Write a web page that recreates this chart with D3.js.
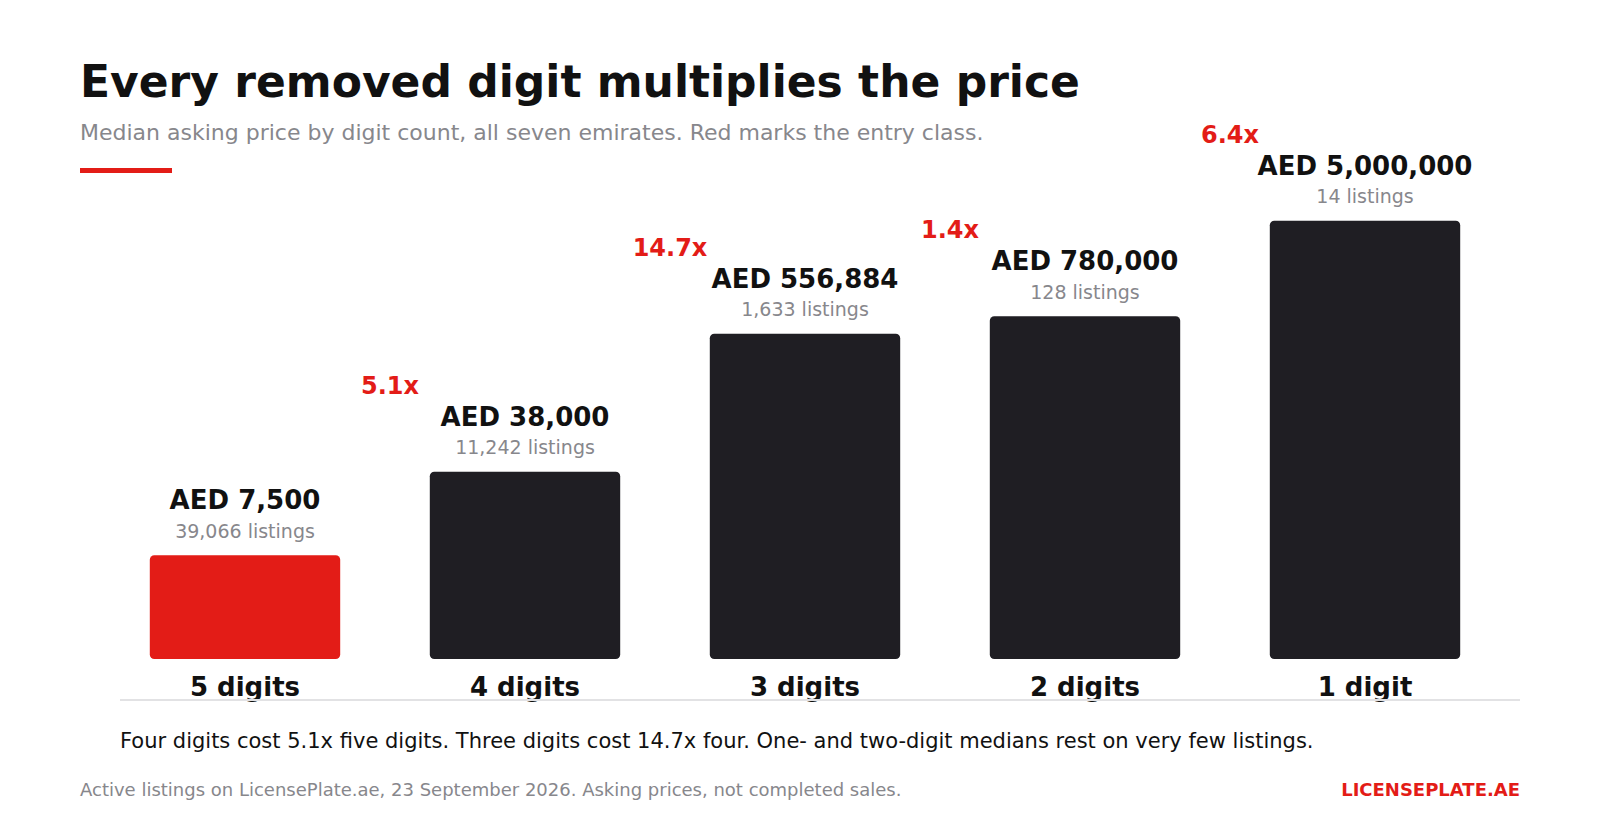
<!DOCTYPE html>
<html>
<head>
<meta charset="utf-8">
<script src="https://cdn.jsdelivr.net/npm/d3@7/dist/d3.min.js"></script>
<style>
  html, body { margin: 0; padding: 0; background: #ffffff; }
  svg { display: block; font-family: "DejaVu Sans", sans-serif; }
</style>
</head>
<body>
<svg id="chart" width="1600" height="840"></svg>
<script>
// ---- Data ----
const categories = ["5 digits", "4 digits", "3 digits", "2 digits", "1 digit"];
const medianPrices = [7500, 38000, 556884, 780000, 5000000];
const listingCounts = [39066, 11242, 1633, 128, 14];
const multipliers = ["", "5.1x", "14.7x", "1.4x", "6.4x"];
const highlight = [true, false, false, false, false];

const titleText = "Every removed digit multiplies the price";
const subtitleText = "Median asking price by digit count, all seven emirates. Red marks the entry class.";
const noteText = "Four digits cost 5.1x five digits. Three digits cost 14.7x four. One- and two-digit medians rest on very few listings.";
const sourceText = "Active listings on LicensePlate.ae, 23 September 2026. Asking prices, not completed sales.";
const brandText = "LICENSEPLATE.AE";

// ---- Styles ----
const RED = "#e31c17";
const DARK = "#1f1e23";
const GRAY = "#87878c";
const INK = "#111111";

const svg = d3.select("#chart");

// ---- Scales ----
const x = d3.scaleBand()
  .domain(categories)
  .range([105, 1505])
  .paddingInner(0.32)
  .paddingOuter(0.16);

const y = d3.scaleLog()
  .domain([1000, 10000000])
  .range([659, 185]);

const rows = categories.map((c, i) => ({
  cat: c, price: medianPrices[i], count: listingCounts[i],
  mult: multipliers[i], hi: highlight[i], i
}));

// ---- Header ----
svg.append("text")
  .attr("x", 80).attr("y", 97)
  .attr("font-size", 44).attr("font-weight", "bold").attr("fill", INK)
  .text(titleText);

svg.append("text")
  .attr("x", 80).attr("y", 140)
  .attr("font-size", 22).attr("fill", GRAY)
  .text(subtitleText);

svg.append("rect")
  .attr("x", 80).attr("y", 168).attr("width", 92).attr("height", 5)
  .attr("fill", RED);

// ---- Bars ----
const fmt = d3.format(",");

svg.append("g").selectAll("rect")
  .data(rows).join("rect")
  .attr("x", d => x(d.cat))
  .attr("y", d => y(d.price))
  .attr("width", x.bandwidth())
  .attr("height", d => y(1000) - y(d.price))
  .attr("rx", 4.5).attr("ry", 4.5)
  .attr("fill", d => d.hi ? RED : DARK);

// value labels
svg.append("g").selectAll("text")
  .data(rows).join("text")
  .attr("x", d => x(d.cat) + x.bandwidth() / 2)
  .attr("y", d => y(d.price) - 46)
  .attr("text-anchor", "middle")
  .attr("font-size", 26).attr("font-weight", "bold").attr("fill", INK)
  .text(d => "AED " + fmt(d.price));

// listing counts
svg.append("g").selectAll("text")
  .data(rows).join("text")
  .attr("x", d => x(d.cat) + x.bandwidth() / 2)
  .attr("y", d => y(d.price) - 17.5)
  .attr("text-anchor", "middle")
  .attr("font-size", 19).attr("fill", GRAY)
  .text(d => fmt(d.count) + " listings");

// multipliers (between bars)
const gapHalf = (x.step() - x.bandwidth()) / 2;
svg.append("g").selectAll("text")
  .data(rows.filter(d => d.mult)).join("text")
  .attr("x", d => x(d.cat) - gapHalf + 5)
  .attr("y", d => y(d.price) - 78)
  .attr("text-anchor", "middle")
  .attr("font-size", 24).attr("font-weight", "bold").attr("fill", RED)
  .text(d => d.mult);

// ---- X axis ----
const axis = svg.append("g")
  .attr("transform", "translate(0,700)")
  .call(d3.axisBottom(x).tickSize(0).tickPadding(0));
axis.select(".domain").remove();
axis.selectAll(".tick text").remove();

svg.append("line")
  .attr("x1", 120).attr("x2", 1520)
  .attr("y1", 700).attr("y2", 700)
  .attr("stroke", "#e2e2e4").attr("stroke-width", 2);

axis.selectAll(".tick").append("text")
  .attr("y", -4)
  .attr("text-anchor", "middle")
  .attr("font-family", "DejaVu Sans, sans-serif")
  .attr("font-size", 26).attr("font-weight", "bold").attr("fill", INK)
  .text(d => d);

// ---- Notes ----
svg.append("text")
  .attr("x", 120).attr("y", 748)
  .attr("font-size", 21).attr("fill", INK)
  .text(noteText);

svg.append("text")
  .attr("x", 80).attr("y", 796)
  .attr("font-size", 18).attr("fill", GRAY)
  .text(sourceText);

svg.append("text")
  .attr("x", 1520).attr("y", 796)
  .attr("text-anchor", "end")
  .attr("font-size", 18).attr("font-weight", "bold").attr("fill", RED)
  .text(brandText);
</script>
</body>
</html>
